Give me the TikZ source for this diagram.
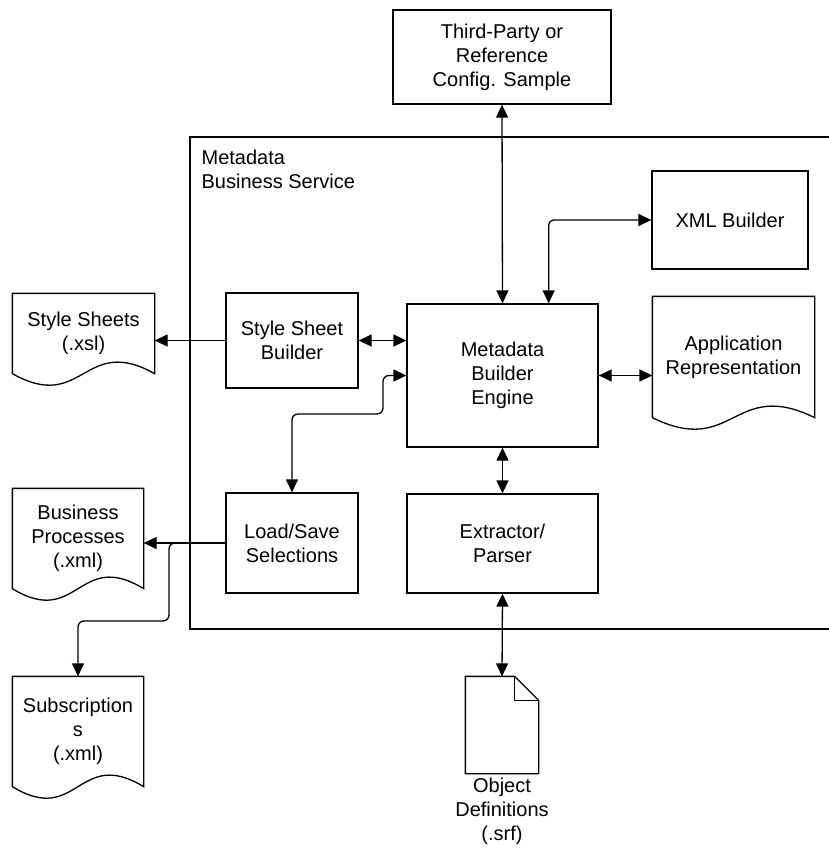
\documentclass[tikz,border=0pt]{standalone}
\usepackage{fontspec}
\setmainfont{Liberation Sans}
\usetikzlibrary{arrows.meta, positioning, calc}

\begin{document}
\begin{tikzpicture}[
    x=1pt, y=-1pt,
    line width=1.3pt,
    every node/.style={font=\fontsize{20}{24}\selectfont},
    block/.style={draw, line width=1.3pt, inner sep=0pt, align=center},
    docsheet/.style={inner sep=0pt, align=center},
    twoway/.style={{Triangle[length=13pt, width=12pt]}-{Triangle[length=13pt, width=12pt]}},
    oneway/.style={-{Triangle[length=13pt, width=12pt]}}
]
    \useasboundingbox (0,0) rectangle (828,849);

    % Service frame
    \draw (829,137) -| (190,629) -- (829,629);
    \node[anchor=north west, inner sep=0pt, align=left] (mbslabel) at (201,149) {Metadata\\Business Service};

    % Blocks
    \node[block, minimum width=218pt, minimum height=94pt] (tp) at (502,57) {Third-Party or\\Reference\\Config. Sample};
    \node[block, minimum width=156pt, minimum height=98pt] (xml) at (730,220) {XML Builder};
    \node[block, minimum width=132pt, minimum height=95pt] (ssb) at (292,340.5) {Style Sheet\\Builder};
    \node[block, minimum width=132pt, minimum height=100pt] (ls) at (292,543) {Load/Save\\Selections};
    \node[block, minimum width=191pt, minimum height=143pt] (mbe) at (502.5,375.5) {Metadata\\Builder\\Engine};
    \node[block, minimum width=191pt, minimum height=99pt] (ext) at (502.5,543.5) {Extractor/\\Parser};

    % Documents
    \node[docsheet, minimum width=141pt, minimum height=79pt] (sheets) at (83.5,333.5) {Style Sheets\\(.xsl)};
    \node[docsheet, minimum width=130pt, minimum height=99pt] (procs) at (78,538.5) {Business\\Processes\\(.xml)};
    \node[docsheet, minimum width=130pt, minimum height=109pt] (subs) at (78,731.5) {Subscription\\s\\(.xml)};
    \node[docsheet, minimum width=161pt, minimum height=120pt] (app) at (733.5,357) {Application\\Representation};
    \foreach \d in {sheets, procs, subs, app}
        \draw (\d.south east) -- (\d.north east) -- (\d.north west) -- (\d.south west)
            .. controls ($(\d.south)+(0,40)$) and ($(\d.south)+(0,-40)$) .. (\d.south east) -- cycle;

    % Object definitions page
    \node[docsheet, minimum width=72pt, minimum height=96pt] (objdef) at (502,725) {};
    \draw (objdef.south west) -- (objdef.north west) -- ($(objdef.north east)+(-24,0)$)
        -- ($(objdef.north east)+(0,24)$) -- (objdef.south east) -- cycle;
    \draw ($(objdef.north east)+(-24,0)$) -- ++(0,24) -- ++(24,0);
    \node[docsheet, below=4pt of objdef] (objtxt) {Object\\Definitions\\(.srf)};

    % Connections
    \coordinate (lsbend) at (383,414);
    \coordinate (subsbend) at (169,621);
    \draw[twoway] (tp.south) -- (mbe.north);
    \draw[twoway, rounded corners=5pt] (xml.west) -| ($(mbe.north west)!0.74!(mbe.north east)$);
    \draw[twoway] (ssb.east) -- (ssb.east -| mbe.west);
    \draw[oneway] (ssb.west) -- (ssb.west -| sheets.east);
    \draw[twoway, rounded corners=6pt] (ls.north) |- (lsbend) |- (mbe.west);
    \draw[twoway] (mbe.east) -- (mbe.east -| app.west);
    \draw[twoway] (mbe.south) -- (ext.north);
    \draw[twoway] (ext.south) -- (objdef.north);
    \draw[oneway] (ls.west) -- (ls.west -| procs.east);
    \draw[oneway, rounded corners=6pt] (ls.west) -| (subsbend) -| (subs.north);
\end{tikzpicture}
\end{document}
